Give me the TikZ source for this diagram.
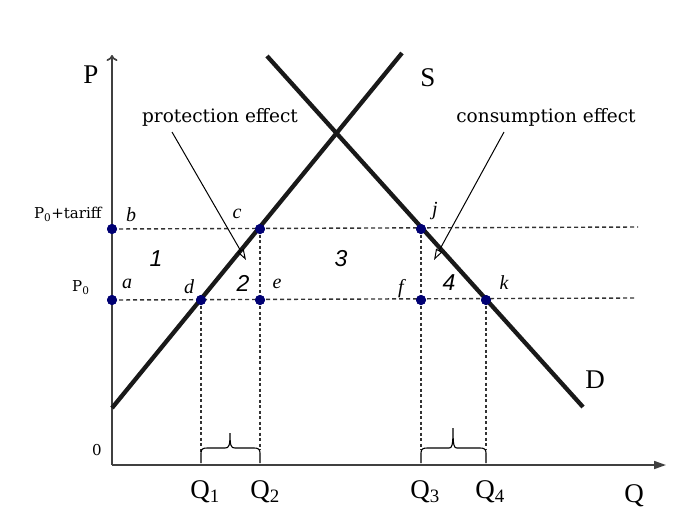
\documentclass[tikz,border=0pt]{standalone}
\usepackage{fontspec}
\setmainfont{Liberation Serif}
\newfontfamily\labfont{DejaVu Serif}
\newfontfamily\numfont{Liberation Sans}
\usetikzlibrary{arrows.meta}
\begin{document}
\begin{tikzpicture}[x=1pt,y=-1pt,
  dot/.style={circle,fill=blue!45!black,inner sep=0pt,minimum size=10pt},
  curve/.style={line width=4.3pt,black!90},
  axis/.style={line width=1.7pt,black!75},
  guide/.style={line width=1.4pt,dash pattern=on 4pt off 3pt,black!80},
  thin/.style={line width=1.2pt,dash pattern=on 3pt off 2.5pt,black!80},
  note/.style={line width=1pt,-{Triangle[open,length=11pt,width=7pt]}},
  big/.style={font=\fontsize{27}{27}\selectfont},
  pt/.style={font=\fontsize{20}{20}\selectfont\itshape},
  num/.style={font=\fontsize{23}{23}\selectfont\numfont\itshape},
  eff/.style={font=\fontsize{18.5}{18.5}\selectfont\labfont},
  small/.style={font=\fontsize{15}{15}\selectfont\labfont},
  brace/.style={line width=1.1pt}]
\useasboundingbox (0,0) rectangle (698,520);
% axes
\coordinate (O) at (112,465);
\coordinate (Ptop) at (112,55);
\coordinate (Qend) at (666,465);
\draw[axis,-{To[length=6pt,width=11pt]}] (O) -- (Ptop);
\draw[axis,-{Triangle[length=12pt,width=8pt]}] (O) -- (Qend);
\node[big] (Plab) at (91,75) {P};
\node[big] (Qlab) at (634,496) {Q};
\node[small] (zero) at (97,450) {0};
% points
\node[dot] (b) at (112,229) {};
\node[dot] (c) at (260,229) {};
\node[dot] (j) at (421,229) {};
\node[dot] (a) at (112,300) {};
\node[dot] (d) at (201,300) {};
\node[dot] (e) at (260,300) {};
\node[dot] (f) at (421,300) {};
\node[dot] (k) at (486,300) {};
\coordinate (r1) at (638,227);
\coordinate (r2) at (634,298);
% dashed guides
\draw[guide] (b.center) -- (r1);
\draw[guide] (a.center) -- (r2);
\coordinate (d0) at (201,452);
\coordinate (c0) at (260,450);
\coordinate (j0) at (421,450);
\coordinate (k0) at (486,450);
\draw[thin] (d.center) -- (d0);
\draw[thin] (c.center) -- (c0);
\draw[thin] (j.center) -- (j0);
\draw[thin] (k.center) -- (k0);
% supply and demand
\coordinate (s0) at (112,408);
\coordinate (s1) at (402,53);
\coordinate (d1) at (267,56);
\coordinate (d2) at (583,407);
\draw[curve] (s0) -- (s1);
\draw[curve] (d1) -- (d2);
\node[big] (S) at (428,78) {S};
\node[big] (D) at (595,380) {D};
% redraw dots on top
\foreach \n in {b,c,j,a,d,e,f,k} \fill[blue!45!black] (\n) circle (5pt);
% point labels
\node[pt] (lb) at (131,215) {b};
\node[pt] (lc) at (237,214) {c};
\node[pt] (lj) at (435,211) {j};
\node[pt] (la) at (127,284) {a};
\node[pt] (ld) at (189,287) {d};
\node[pt] (le) at (277,284) {e};
\node[pt] (lf) at (401,289) {f};
\node[pt] (lk) at (504,283) {k};
\node[num] (n1) at (156,259) {1};
\node[num] (n2) at (243,283) {2};
\node[num] (n3) at (341,259) {3};
\node[num] (n4) at (449,283) {4};
% price labels
\node[small,anchor=east] (pt) at (105,214) {P\textsubscript{0}+tariff};
\node[small,anchor=east] (p0) at (93,288) {P\textsubscript{0}};
% effect annotations
\node[eff] (prot) at (220,117) {protection effect};
\node[eff] (cons) at (546,117) {consumption effect};
\coordinate (pa) at (172,132);
\coordinate (pb) at (246,260);
\coordinate (ca) at (504,132);
\coordinate (cb) at (434,260);
\draw[note] (pa) -- (pb);
\draw[note] (ca) -- (cb);
% braces
\draw[brace] (201,463) -- (201,453) .. controls (201,449) and (203,448) .. (207,448) -- (225,448)
  .. controls (229,448) and (230,446) .. (230,433) .. controls (230,446) and (231,448) .. (235,448)
  -- (254,448) .. controls (258,448) and (260,449) .. (260,453) -- (260,463);
\draw[brace] (421,463) -- (421,453) .. controls (421,449) and (423,448) .. (427,448) -- (449,448)
  .. controls (452,448) and (453,446) .. (453,428) .. controls (453,446) and (454,448) .. (457,448)
  -- (480,448) .. controls (484,448) and (486,449) .. (486,453) -- (486,463);
% Q labels
\node[big] (q1) at (205,492) {Q\textsubscript{1}};
\node[big] (q2) at (265,492) {Q\textsubscript{2}};
\node[big] (q3) at (425,492) {Q\textsubscript{3}};
\node[big] (q4) at (490,492) {Q\textsubscript{4}};
\end{tikzpicture}
\end{document}
